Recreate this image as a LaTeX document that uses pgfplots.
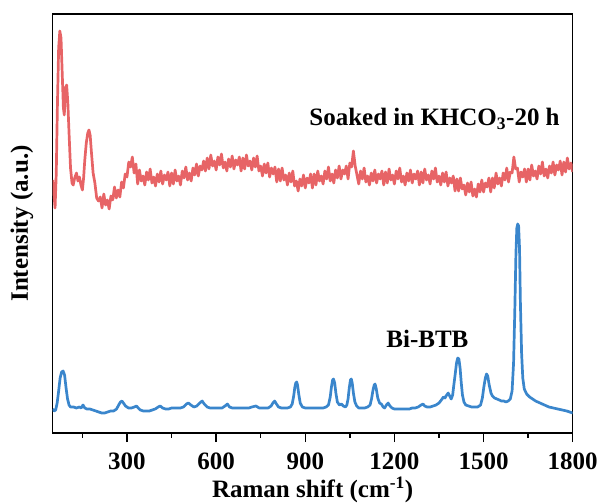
\documentclass[border=0pt]{standalone}
\usepackage{pgfplots}
\pgfplotsset{compat=1.18}
\usepackage{fontspec}
\setmainfont{Liberation Serif}
\definecolor{cred}{RGB}{231,100,102}
\definecolor{cblue}{RGB}{58,134,204}
\newcommand{\bigfont}{\fontsize{25}{30}\selectfont\bfseries}
\begin{document}
\begin{tikzpicture}
\begin{axis}[
  name=ax,
  scale only axis,
  width=520pt, height=419pt,
  xmin=50, xmax=1800, ymin=0, ymax=419,
  xtick={300,600,900,1200,1500,1800},
  minor xtick={150,450,750,1050,1350,1650},
  ytick=\empty,
  xtick pos=left,
  xtick align=outside,
  major tick length=9pt,
  minor tick length=4.5pt,
  axis line style={line width=1.5pt},
  every major tick/.append style={draw=black, line width=1.5pt},
  every minor tick/.append style={draw=black, line width=1.4pt},
  /pgf/number format/assume math mode=true,
  /pgf/number format/1000 sep={},
  ticklabel style={font=\bigfont},
  xticklabel style={anchor=base, yshift=-27pt},
  xlabel={Raman shift (cm\textsuperscript{-1})},
  ylabel={Intensity (a.u.)},
  every axis x label/.style={at={(axis description cs:0.5,-0.155)}, anchor=base, font=\bigfont},
  every axis y label/.style={at={(axis description cs:-0.059,0.5)}, rotate=90, anchor=center, font=\bigfont},
  clip=true,
]
\addplot[cblue, line width=2.7pt, line join=round] coordinates {
(50,24)(55,22)(60,23)(65,30)(70,42)(75,55)(80,61)(85,62)(90,58)(95,45)(100,34)(105,28)(110,26)(120,26)(130,25)(140,26)(146,25)(152,28)(158,25)(165,24)(175,24)(185,23)(195,22)(205,21)(215,20)(225,20)(235,21)(245,22)(255,22)(265,24)(272,28)(278,31)(283,32)(288,30)(295,27)(305,25)(315,25)(325,26)(332,27)(338,25)(345,23)(355,22)(365,22)(375,22)(385,23)(395,24)(405,26)(412,27)(420,25)(430,24)(440,24)(450,25)(460,25)(470,25)(480,25)(490,26)(500,29)(507,30)(515,28)(525,26)(535,27)(545,30)(553,32)(560,29)(570,26)(580,25)(590,25)(600,25)(610,25)(620,25)(630,27)(638,29)(645,26)(655,25)(665,25)(680,25)(695,25)(710,25)(720,26)(734,27)(745,25)(760,25)(775,25)(785,27)(791,30)(797,32)(803,29)(810,26)(820,25)(830,25)(840,25)(850,26)(856,29)(861,37)(865,46)(868,50)(871,51)(874,48)(878,39)(883,30)(890,26)(900,25)(910,25)(920,25)(930,25)(940,25)(950,25)(960,25)(970,26)(978,28)(984,36)(988,46)(992,53)(995,54)(999,50)(1003,40)(1008,31)(1015,28)(1022,29)(1028,27)(1035,26)(1040,28)(1044,34)(1048,45)(1052,53)(1055,54)(1058,50)(1062,40)(1067,31)(1073,27)(1080,25)(1090,25)(1100,25)(1110,26)(1118,28)(1123,34)(1128,43)(1132,48)(1135,49)(1139,44)(1144,35)(1150,30)(1156,29)(1162,26)(1167,25)(1173,28)(1179,30)(1185,27)(1192,25)(1200,24)(1210,24)(1220,24)(1230,24)(1240,24)(1250,24)(1260,25)(1270,25)(1280,26)(1290,28)(1296,29)(1302,27)(1310,26)(1320,26)(1330,27)(1340,28)(1350,30)(1358,33)(1365,36)(1370,35)(1376,38)(1381,40)(1386,37)(1391,34)(1396,38)(1400,48)(1405,60)(1409,70)(1413,75)(1417,74)(1421,65)(1425,50)(1429,38)(1434,31)(1440,28)(1450,27)(1460,26)(1470,26)(1480,26)(1490,28)(1496,35)(1501,46)(1506,55)(1510,59)(1514,57)(1519,48)(1525,40)(1530,37)(1537,35)(1545,34)(1553,33)(1560,32)(1568,32)(1575,31)(1583,32)(1590,34)(1596,42)(1601,70)(1605,120)(1609,180)(1612,205)(1615,209)(1618,207)(1621,185)(1624,130)(1628,80)(1632,55)(1637,44)(1645,39)(1655,36)(1665,34)(1675,32)(1690,30)(1705,28)(1720,26)(1735,25)(1750,24)(1765,23)(1780,22)(1790,21)(1800,20)
};
\addplot[cred, line width=2.7pt, line join=round] coordinates {
(50,253)(54,240)(58,225)(62,260)(66,330)(70,385)(74,402)(78,395)(82,360)(86,325)(89,318)(93,345)(97,348)(101,330)(105,300)(110,265)(115,250)(119,248)(124,255)(130,260)(135,252)(140,256)(145,248)(150,243)(154,255)(158,273)(163,290)(168,300)(172,303)(176,298)
(180,282)(186,260)(192,250)(198,235)(204,232)(210,236)(216,225)(222,239)(228,228)(234,233)(240,224)(246,237)(252,233)(258,246)(264,235)(270,243)(276,236)(282,251)(288,245)(294,259)(300,256)(306,271)(312,266)(318,276)(324,260)(330,269)(336,249)(342,263)(348,252)(354,257)(360,248)(366,261)(372,253)(378,264)(384,250)(390,256)(396,247)(402,259)(408,251)(414,262)(420,249)(426,258)(432,253)(438,261)(444,247)(450,260)(456,249)(462,263)(468,252)(474,257)(480,248)(486,262)(492,255)(498,266)(504,253)(510,260)(516,252)(522,265)(528,258)(534,269)(540,257)(546,267)(552,263)(558,272)(564,262)(570,275)(576,264)(582,278)(588,267)(594,272)(600,263)(606,276)(612,268)(618,279)(624,265)(630,271)(636,262)(642,274)(648,266)(654,277)(660,264)(666,273)(672,268)(678,276)(684,262)(690,275)(696,264)(702,278)(708,267)(714,272)(720,263)(726,275)(732,266)(738,277)(744,262)(750,267)(756,257)(762,269)(768,260)(774,270)(780,256)(786,265)(792,259)(798,266)(804,251)(810,264)(816,252)(822,265)(828,253)(834,258)(840,248)(846,260)(852,251)(858,262)(864,247)(870,252)(876,242)(882,254)(888,247)(894,258)(900,245)(906,255)(912,250)(918,259)(924,245)(930,259)(936,248)(942,262)(948,252)(954,257)(960,249)(966,262)(972,254)(978,266)(984,252)(990,259)(996,250)(1002,263)(1008,255)(1014,267)(1020,254)(1026,263)(1032,259)(1038,267)(1044,254)(1050,270)(1056,266)(1062,282)(1068,267)(1074,258)(1080,249)(1086,262)(1092,254)(1098,265)(1104,251)(1110,257)(1116,248)(1122,260)(1128,252)(1134,263)(1140,250)(1146,259)(1152,254)(1158,262)(1164,248)(1170,261)(1176,250)(1182,264)(1188,253)(1194,258)(1200,249)(1206,262)(1212,254)(1218,265)(1224,251)(1230,257)(1236,248)(1242,260)(1248,252)(1254,263)(1260,250)(1266,259)(1272,254)(1278,262)(1284,248)(1290,261)(1296,250)(1302,264)(1308,253)(1314,258)(1320,249)(1326,262)(1332,254)(1338,265)(1344,251)(1350,257)(1356,248)(1362,260)(1368,251)(1374,261)(1380,247)(1386,255)(1392,250)(1398,257)(1404,242)(1410,254)(1416,242)(1422,255)(1428,244)(1434,248)(1440,238)(1446,250)(1452,241)(1458,251)(1464,237)(1470,244)(1476,236)(1482,249)(1488,241)(1494,253)(1500,241)(1506,250)(1512,246)(1518,255)(1524,241)(1530,255)(1536,245)(1542,260)(1548,249)(1554,255)(1560,247)(1566,260)(1572,253)(1578,265)(1584,251)(1590,261)(1596,260)(1602,276)(1608,264)(1614,265)(1620,251)(1626,261)(1632,256)(1638,264)(1644,251)(1650,264)(1656,253)(1662,268)(1668,257)(1674,262)(1680,254)(1686,267)(1692,259)(1698,271)(1704,257)(1710,264)(1716,255)(1722,267)(1728,260)(1734,271)(1740,258)(1746,268)(1752,263)(1758,272)(1764,258)(1770,271)(1776,261)(1782,275)(1788,264)(1794,270)(1800,261)
};
\node[anchor=east, font=\bigfont] at (axis cs:1768,314) {Soaked in KHCO\textsubscript{3}-20 h};
\node[anchor=center, font=\bigfont] at (axis cs:1311,94) {Bi-BTB};
\end{axis}
\pgfresetboundingbox
\path ([shift={(-52.7pt,-70pt)}]ax.south west) rectangle ([shift={(29.3pt,14pt)}]ax.north east);
\end{tikzpicture}
\end{document}
